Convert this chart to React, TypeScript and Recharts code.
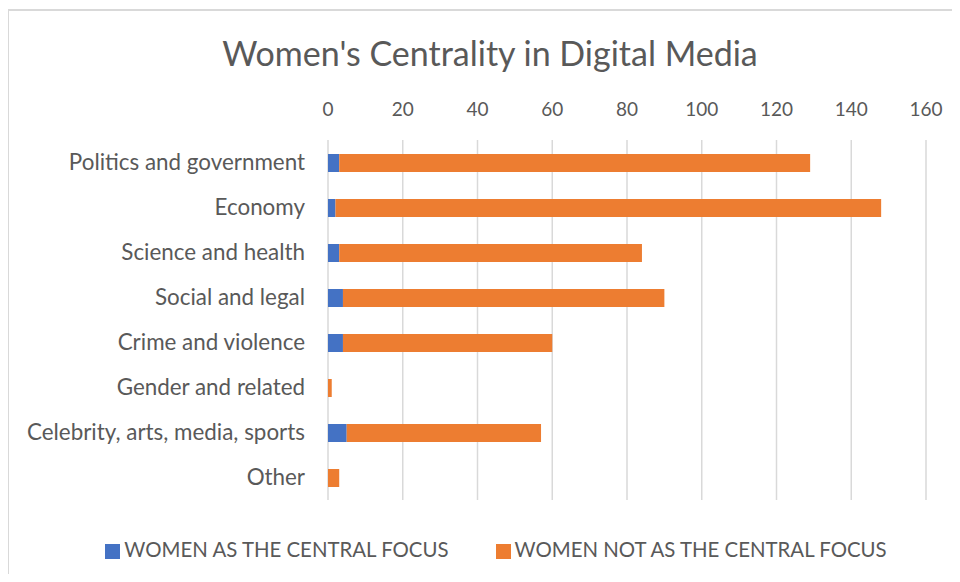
import React from 'react';
import { BarChart, Bar, XAxis, YAxis, CartesianGrid, Legend } from 'recharts';

const categories = [
  'Politics and government',
  'Economy',
  'Science and health',
  'Social and legal',
  'Crime and violence',
  'Gender and related',
  'Celebrity, arts, media, sports',
  'Other',
];
const centralFocus = [3, 2, 3, 4, 4, 0, 5, 0];
const notCentralFocus = [126, 146, 81, 86, 56, 1, 52, 3];
const xTicks = [0, 20, 40, 60, 80, 100, 120, 140, 160];

const data = categories.map((name, i) => ({
  name,
  central: centralFocus[i],
  notCentral: notCentralFocus[i],
}));

const font = 'Lato, "Open Sans", sans-serif';
const textColor = '#595959';

export default function App() {
  return (
    <div style={{ position: 'relative', width: 960, height: 582, margin: -8, fontFamily: font, background: '#fff', overflow: 'hidden' }}>
      <div style={{ position: 'absolute', left: 7, top: 9, width: 980, height: 600, border: '2px solid #d9d9d9', boxSizing: 'border-box' }} />
      <div style={{ position: 'absolute', top: 32, left: 0, width: 980, textAlign: 'center', fontSize: 34, color: textColor }}>
        Women's Centrality in Digital Media
      </div>
      <BarChart
        width={960}
        height={582}
        data={data}
        layout="vertical"
        margin={{ top: 110, right: 34, bottom: 58, left: 0 }}
        barSize={18}
        style={{ position: 'absolute', top: 0, left: 0 }}
      >
        <CartesianGrid horizontal={false} stroke="#d9d9d9" strokeWidth={1.5} />
        <XAxis
          type="number"
          orientation="top"
          domain={[0, 160]}
          ticks={xTicks}
          height={30}
          axisLine={false}
          tickLine={false}
          tickMargin={18}
          tick={{ fill: textColor, fontSize: 19, fontFamily: font }}
        />
        <YAxis
          type="category"
          dataKey="name"
          width={328}
          axisLine={false}
          tickLine={false}
          tickMargin={17}
          tick={{ fill: textColor, fontSize: 22.4, fontFamily: font }}
        />
        <Legend
          verticalAlign="bottom"
          iconType="square"
          iconSize={15}
          wrapperStyle={{ fontSize: 20.4, fontFamily: font, bottom: 21, left: 38 }}
          formatter={(v, _e, i) => (
            <span style={{ color: textColor, marginRight: i === 0 ? 37 : 0 }}>{v}</span>
          )}
        />
        <Bar dataKey="central" name="WOMEN AS THE CENTRAL FOCUS" stackId="a" fill="#4472C4" isAnimationActive={false} />
        <Bar dataKey="notCentral" name="WOMEN NOT AS THE CENTRAL FOCUS" stackId="a" fill="#ED7D31" isAnimationActive={false} />
      </BarChart>
    </div>
  );
}
